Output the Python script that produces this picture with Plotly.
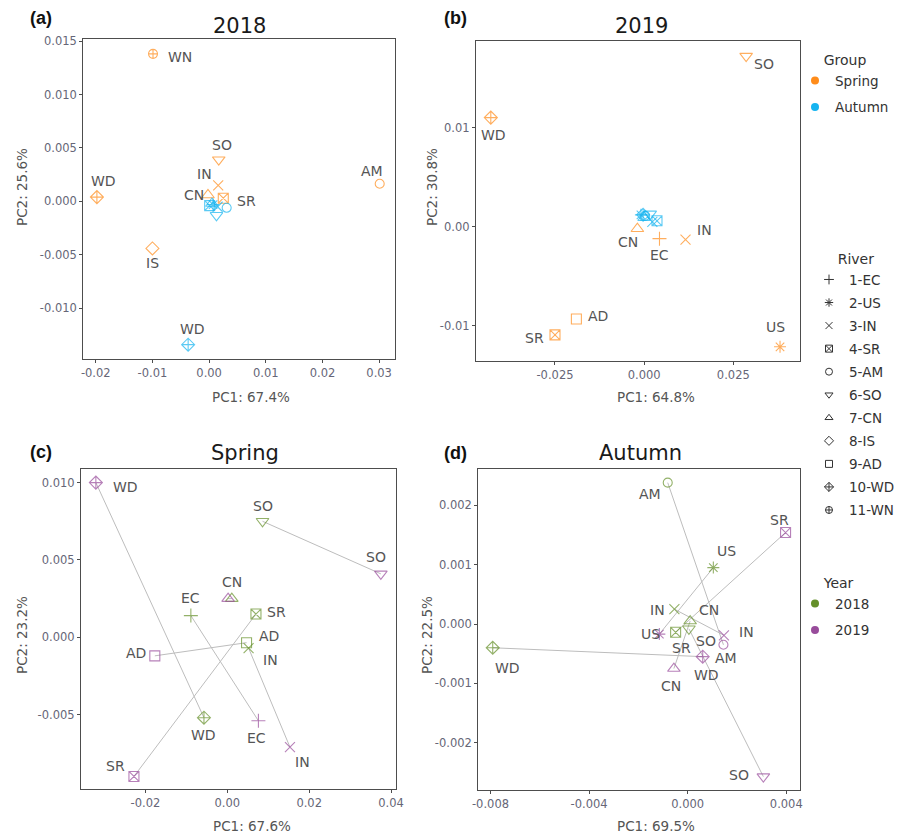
import plotly.graph_objects as go

W, H = 914, 836

# ---- data -------------------------------------------------------------
# (a) 2018 PCA
a_spring_river = ["WN", "WD", "IS", "SO", "IN", "SR", "CN", "AM"]
a_spring_pc1 = [-0.0099, -0.0198, -0.0100, 0.0017, 0.0016, 0.0025, -0.0002, 0.0301]
a_spring_pc2 = [0.0138, 0.0004, -0.0044, 0.0039, 0.0015, 0.0003, 0.0006, 0.00165]
a_autumn_river = ["WD", "SR", "US", "CN", "IN", "SO", "AM"]
a_autumn_pc1 = [-0.0037, 0.0001, 0.0007, 0.0005, 0.0015, 0.0013, 0.0031]
a_autumn_pc2 = [-0.0134, -0.0004, -0.0003, -0.0002, -0.0005, -0.0013, -0.0006]

# (b) 2019 PCA
b_spring_river = ["SO", "WD", "CN", "EC", "IN", "AD", "SR", "US"]
b_spring_pc1 = [0.0286, -0.0430, -0.0019, 0.0043, 0.0116, -0.0190, -0.0250, 0.0381]
b_spring_pc2 = [0.0172, 0.0110, -0.0002, -0.0012, -0.0013, -0.0093, -0.0109, -0.0121]
b_autumn_river = ["US", "SO", "SR", "IN", "AM", "CN", "WD"]
b_autumn_pc1 = [-0.0009, 0.0017, 0.0036, 0.0023, 0.0003, 0.0000, -0.0003]
b_autumn_pc2 = [0.0012, 0.0013, 0.0006, 0.0005, 0.0011, 0.0009, 0.0012]

# (c) Spring PCA
c_2018_river = ["SO", "CN", "EC", "SR", "AD", "IN", "WD"]
c_2018_pc1 = [0.0086, 0.0011, -0.0089, 0.0070, 0.0047, 0.0052, -0.0057]
c_2018_pc2 = [0.0075, 0.0025, 0.0014, 0.0015, -0.00035, -0.0007, -0.0052]
c_2019_river = ["WD", "SO", "CN", "AD", "EC", "IN", "SR"]
c_2019_pc1 = [-0.0321, 0.0375, 0.0002, -0.0177, 0.0076, 0.0153, -0.0228]
c_2019_pc2 = [0.0100, 0.0041, 0.0025, -0.0012, -0.0054, -0.0071, -0.0090]

# (d) Autumn PCA
d_2018_river = ["AM", "US", "IN", "CN", "SO", "SR", "WD"]
d_2018_pc1 = [-0.00081, 0.00104, -0.00054, 0.00010, 0.00005, -0.00049, -0.00791]
d_2018_pc2 = [0.00238, 0.00095, 0.00025, 0.00005, -0.00008, -0.00014, -0.00040]
d_2019_river = ["SR", "IN", "AM", "US", "WD", "CN", "SO"]
d_2019_pc1 = [0.00397, 0.00147, 0.00145, -0.00115, 0.00061, -0.00056, 0.00307]
d_2019_pc2 = [0.00154, -0.00019, -0.00035, -0.00017, -0.00055, -0.00075, -0.00257]

# Variance explained and tick labels
panel_titles = ["2018", "2019", "Spring", "Autumn"]
pc1_labels = ["PC1: 67.4%", "PC1: 64.8%", "PC1: 67.6%", "PC1: 69.5%"]
pc2_labels = ["PC2: 25.6%", "PC2: 30.8%", "PC2: 23.2%", "PC2: 22.5%"]

a_xticks = [-0.02, -0.01, 0.0, 0.01, 0.02, 0.03]
a_xtext = ["-0.02", "-0.01", "0.00", "0.01", "0.02", "0.03"]
a_yticks = [-0.010, -0.005, 0.0, 0.005, 0.010, 0.015]
a_ytext = ["-0.010", "-0.005", "0.000", "0.005", "0.010", "0.015"]
b_xticks = [-0.025, 0.0, 0.025]
b_xtext = ["-0.025", "0.000", "0.025"]
b_yticks = [-0.01, 0.0, 0.01]
b_ytext = ["-0.01", "0.00", "0.01"]
c_xticks = [-0.02, 0.0, 0.02, 0.04]
c_xtext = ["-0.02", "0.00", "0.02", "0.04"]
c_yticks = [-0.005, 0.0, 0.005, 0.010]
c_ytext = ["-0.005", "0.000", "0.005", "0.010"]
d_xticks = [-0.008, -0.004, 0.0, 0.004]
d_xtext = ["-0.008", "-0.004", "0.000", "0.004"]
d_yticks = [-0.002, -0.001, 0.0, 0.001, 0.002]
d_ytext = ["-0.002", "-0.001", "0.000", "0.001", "0.002"]

river_codes = ["1-EC", "2-US", "3-IN", "4-SR", "5-AM", "6-SO", "7-CN",
               "8-IS", "9-AD", "10-WD", "11-WN"]
group_names = ["Spring", "Autumn"]
year_names = ["2018", "2019"]

# ---- styling ----------------------------------------------------------
ORANGE = "#FF8C1A"
BLUE = "#16B4F0"
GREEN = "#65902A"
PURPLE = "#984C9B"
SEG = "#BDBDBD"
TXT = "#555555"
FONT = "DejaVu Sans"

SYMBOLS = {"EC": "cross-thin-open", "US": "asterisk-open", "IN": "x-thin-open",
           "SR": "square-x-open", "AM": "circle-open", "SO": "triangle-down-open",
           "CN": "triangle-up-open", "IS": "diamond-open", "AD": "square-open",
           "WD": "diamond-cross-open", "WN": "circle-cross-open"}
SIZES = {"AM": 9, "SO": 11, "CN": 11, "WN": 9}

# label offsets (pixels, dx right / dy up) keyed by panel, series, river
LABEL_OFF = {
    ("a", 0): {"WN": (27, -3), "WD": (7, 16), "IS": (0, -15), "SO": (3, 15),
               "IN": (-14, 11), "CN": (-14, 0), "SR": (23, -3), "AM": (-8, 13)},
    ("a", 1): {"WD": (4, 16)},
    ("b", 0): {"SO": (18, -8), "WD": (3, -17), "CN": (-9, -13), "EC": (0, -16),
               "IN": (19, 10), "AD": (22, 3), "SR": (-20, -3), "US": (-5, 20)},
    ("b", 1): {},
    ("c", 0): {"SO": (0, 15), "CN": (0, 17), "EC": (0, 18), "SR": (21, 2),
               "AD": (22, 7), "IN": (22, -12), "WD": (0, -17)},
    ("c", 1): {"WD": (30, -4), "SO": (-5, 17), "AD": (-19, 3), "EC": (-2, -17),
               "IN": (13, -15), "SR": (-18, 10)},
    ("d", 0): {"AM": (-18, -11), "US": (13, 17), "IN": (-17, -1), "CN": (19, 11),
               "SO": (17, -12), "SR": (6, -16), "WD": (15, -20)},
    ("d", 1): {"SR": (-6, 13), "IN": (23, 3), "AM": (3, -13), "US": (-9, 0),
               "WD": (4, -18), "CN": (-3, -17), "SO": (-24, 2)},
}

# plot areas in pixels: (left, top, right, bottom)
BOXES = {"a": (83.3, 39.3, 395, 359), "b": (476, 40.7, 800, 360.7),
         "c": (81, 469, 396, 789.3), "d": (478.3, 469, 800, 790)}
RANGES = {"a": ([-0.0222, 0.0328], [-0.01474, 0.01516]),
          "b": ([-0.04715, 0.0437], [-0.0135, 0.01875]),
          "c": ([-0.03573, 0.0412], [-0.00983, 0.01088]),
          "d": ([-0.008495, 0.004556], [-0.002795, 0.00261])}
TICKS = {"a": (a_xticks, a_xtext, a_yticks, a_ytext),
         "b": (b_xticks, b_xtext, b_yticks, b_ytext),
         "c": (c_xticks, c_xtext, c_yticks, c_ytext),
         "d": (d_xticks, d_xtext, d_yticks, d_ytext)}

PANELS = {
    "a": [(a_spring_river, a_spring_pc1, a_spring_pc2, ORANGE),
          (a_autumn_river, a_autumn_pc1, a_autumn_pc2, BLUE)],
    "b": [(b_spring_river, b_spring_pc1, b_spring_pc2, ORANGE),
          (b_autumn_river, b_autumn_pc1, b_autumn_pc2, BLUE)],
    "c": [(c_2018_river, c_2018_pc1, c_2018_pc2, GREEN),
          (c_2019_river, c_2019_pc1, c_2019_pc2, PURPLE)],
    "d": [(d_2018_river, d_2018_pc1, d_2018_pc2, GREEN),
          (d_2019_river, d_2019_pc1, d_2019_pc2, PURPLE)],
}
AXIS_ID = {"a": "", "b": "2", "c": "3", "d": "4"}


def px(x):
    return x / W


def py(y):
    return 1 - y / H


fig = go.Figure()
annotations = []

for key, series in PANELS.items():
    n = AXIS_ID[key]
    xa, ya = "x" + n, "y" + n

    # year-to-year segments for the same river (seasonal panels)
    if key in ("c", "d"):
        (r0, x0, y0, _), (r1, x1, y1, _) = series
        sx, sy = [], []
        for i, r in enumerate(r0):
            if r in r1:
                j = r1.index(r)
                sx += [x0[i], x1[j], None]
                sy += [y0[i], y1[j], None]
        fig.add_trace(go.Scatter(x=sx, y=sy, mode="lines", xaxis=xa, yaxis=ya,
                                 line=dict(color=SEG, width=1), showlegend=False,
                                 hoverinfo="skip"))

    for si, (rivers, xs, ys, col) in enumerate(series):
        fig.add_trace(go.Scatter(
            x=xs, y=ys, mode="markers", xaxis=xa, yaxis=ya, showlegend=False,
            text=rivers,
            marker=dict(symbol=[SYMBOLS[r] for r in rivers],
                        size=[SIZES.get(r, 10) for r in rivers],
                        color=col, line=dict(color=col, width=1.1))))
        offs = LABEL_OFF[(key, si)]
        for r, x, y in zip(rivers, xs, ys):
            if r in offs:
                dx, dy = offs[r]
                annotations.append(dict(
                    x=x, y=y, xref=xa, yref=ya, text=r, showarrow=False,
                    xanchor="center", yanchor="middle",
                    xshift=dx, yshift=dy, font=dict(family=FONT, size=14, color=TXT)))

# axes
layout_axes = {}
for key, (l, t, r, b) in BOXES.items():
    n = AXIS_ID[key]
    xr, yr = RANGES[key]
    xt, xtt, yt, ytt = TICKS[key]
    common = dict(showgrid=False, zeroline=False, showline=True, mirror=True,
                  automargin=False,
                  linecolor="#4D4D4D", linewidth=1.2, ticks="outside", ticklen=3,
                  tickcolor="#4D4D4D",
                  tickfont=dict(family=FONT, size=11.5, color="#666677"))
    layout_axes["xaxis" + n] = dict(common, domain=[px(l), px(r)], range=xr,
                                    tickvals=xt, ticktext=xtt,
                                    anchor="y" + n)
    layout_axes["yaxis" + n] = dict(common, domain=[py(b), py(t)], range=yr,
                                    tickvals=yt, ticktext=ytt,
                                    anchor="x" + n)


def paper_text(x, y, text, font, angle=0):
    return dict(x=px(x), y=py(y), xref="paper", yref="paper", text=text,
                showarrow=False, xanchor="center", yanchor="middle",
                textangle=angle, font=font)


# titles, panel tags, axis titles
title_pos = {"a": (239, 26), "b": (641, 26), "c": (245, 453), "d": (640, 453)}
tag_pos = {"a": (41, 18), "b": (455, 18), "c": (41, 452), "d": (455, 453)}
xlab_pos = {"a": (251, 397), "b": (656, 397), "c": (252, 826), "d": (656, 826)}
ylab_pos = {"a": (22, 187), "b": (432, 187), "c": (22, 635), "d": (427, 635)}
for i, key in enumerate("abcd"):
    annotations.append(paper_text(*title_pos[key], panel_titles[i],
                                  dict(family=FONT, size=21, color="#1A1A1A")))
    annotations.append(paper_text(*tag_pos[key], f"<b>({key})</b>",
                                  dict(family="Liberation Sans", size=18, color="#111111")))
    annotations.append(paper_text(*xlab_pos[key], pc1_labels[i],
                                  dict(family=FONT, size=13.5, color=TXT)))
    annotations.append(paper_text(*ylab_pos[key], pc2_labels[i],
                                  dict(family=FONT, size=13.5, color=TXT), angle=-90))

# legends: Group, River, Year
for name, col in zip(group_names, [ORANGE, BLUE]):
    fig.add_trace(go.Scatter(x=[None], y=[None], mode="markers", name=name,
                             legend="legend", legendgroup=name,
                             marker=dict(symbol="circle", size=8, color=col)))
for code in river_codes:
    r = code.split("-")[1]
    fig.add_trace(go.Scatter(x=[None], y=[None], mode="markers", name=code,
                             legend="legend2", legendgroup=code,
                             marker=dict(symbol=SYMBOLS[r], size=7, color="#333333",
                                         line=dict(color="#333333", width=1))))
for name, col in zip(year_names, [GREEN, PURPLE]):
    fig.add_trace(go.Scatter(x=[None], y=[None], mode="markers", name=name,
                             legend="legend3", legendgroup=name,
                             marker=dict(symbol="circle", size=8, color=col)))

leg_common = dict(bgcolor="rgba(0,0,0,0)", itemwidth=30, itemsizing="trace",
                  font=dict(family=FONT, size=13.5, color="#333333"),
                  xanchor="left", yanchor="top")
title_font = dict(family=FONT, size=14, color="#333333")
NB = "\u00a0"
fig.update_layout(
    width=W, height=H, margin=dict(l=0, r=0, t=0, b=0, autoexpand=False),
    paper_bgcolor="white", plot_bgcolor="white",
    showlegend=True,
    legend=dict(leg_common, x=px(795), y=py(47), tracegroupgap=6,
                title=dict(text=NB * 6 + "Group", font=title_font)),
    legend2=dict(leg_common, x=px(809), y=py(246), tracegroupgap=2.5,
                 title=dict(text=NB * 6 + "River", font=title_font)),
    legend3=dict(leg_common, x=px(795), y=py(570), tracegroupgap=6,
                 title=dict(text=NB * 6 + "Year", font=title_font)),
    annotations=annotations,
    **layout_axes,
)

fig.write_html("out.html")
